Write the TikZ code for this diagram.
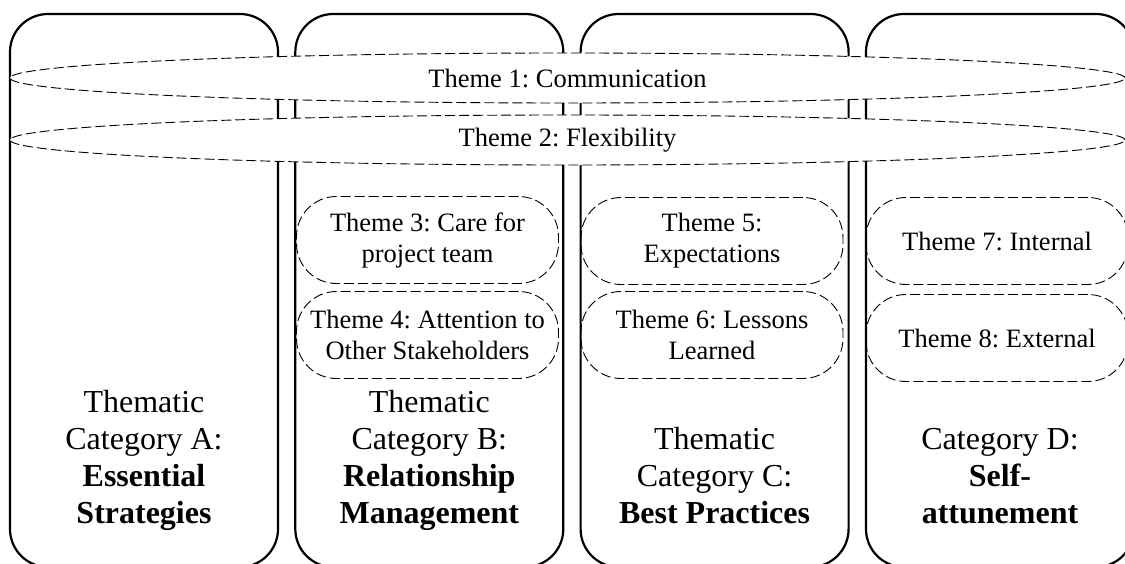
\documentclass[tikz,border=0pt]{standalone}
\usepackage{fontspec}
\setmainfont{Liberation Serif}
\frenchspacing
\usetikzlibrary{shapes.geometric}
\begin{document}
\begin{tikzpicture}[x=1pt,y=-1pt,
  catbox/.style={draw, line width=2.2pt, rounded corners=38pt, minimum width=268pt, minimum height=553pt, inner sep=0pt},
  themeband/.style={ellipse, draw, fill=white, line width=0.9pt, dash pattern=on 10pt off 4pt, minimum width=1115pt, minimum height=50pt, inner sep=0pt, font=\frenchspacing\fontsize{26.5}{31}\selectfont},
  themeoval/.style={draw, line width=0.9pt, dash pattern=on 10pt off 4pt, rounded corners=40pt, minimum width=262pt, minimum height=87pt, inner sep=0pt, align=center, font=\frenchspacing\fontsize{26.5}{31}\selectfont},
  cattext/.style={anchor=south, inner sep=0pt, text depth=0pt, align=center, font=\frenchspacing\fontsize{32}{37}\selectfont}]
\useasboundingbox (0,0) rectangle (1125,564);
\clip (0,0) rectangle (1125,564);
% category boxes
\node[catbox] (ba) at (144,290.5) {};
\node[catbox] (bb) at (429.3,290.5) {};
\node[catbox] (bc) at (714.6,290.5) {};
\node[catbox] (bd) at (1000,290.5) {};
% category texts
\node[cattext] (ta) at (144,524) {Thematic\\Category A:\\\textbf{Essential}\\\textbf{Strategies}};
\node[cattext] (tb) at (429.3,524) {Thematic\\Category B:\\\textbf{Relationship}\\\textbf{Management}};
\node[cattext] (tc) at (714.6,524) {Thematic\\Category C:\\\textbf{Best Practices}};
\node[cattext] (td) at (1000,524) {Category D:\\\textbf{Self-}\\\textbf{attunement}};
% spanning themes
\node[themeband] (e1) at (567.5,78) {Theme 1: Communication};
\node[themeband] (e2) at (567.5,140) {Theme 2: Flexibility};
% themes within categories
\node[themeoval] (th3) at (427.5,240) {Theme 3: Care for\\project team};
\node[themeoval] (th4) at (427.5,335) {Theme 4: Attention to\\Other Stakeholders};
\node[themeoval] (th5) at (712,241) {Theme 5:\\Expectations};
\node[themeoval] (th6) at (712,335) {Theme 6: Lessons\\Learned};
\node[themeoval] (th7) at (997,241) {Theme 7: Internal};
\node[themeoval] (th8) at (997,338) {Theme 8: External};
\end{tikzpicture}
\end{document}
